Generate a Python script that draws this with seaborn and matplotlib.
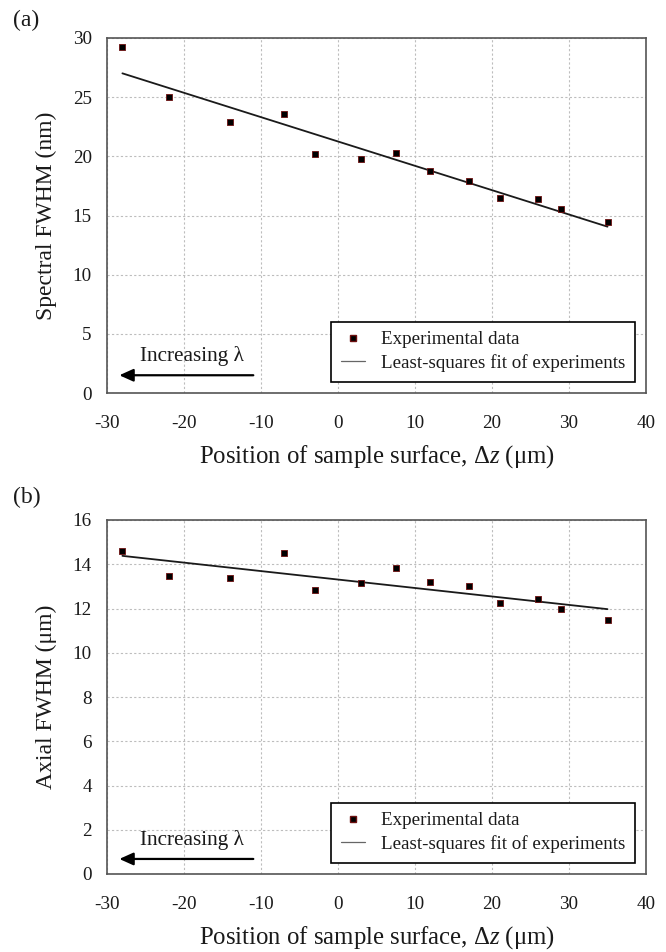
import numpy as np
import pandas as pd
import matplotlib
matplotlib.use("Agg")
import matplotlib.pyplot as plt
from matplotlib.ticker import FixedLocator, AutoMinorLocator
from matplotlib.lines import Line2D
import seaborn as sns

# Position of the sample surface (µm) for each measurement
dz = [-28, -22, -14, -7, -3, 3, 7.5, 12, 17, 21, 26, 29, 35]
# Measured spectral FWHM (nm)
spectral_fwhm = [29.2, 25.05, 22.93, 23.55, 20.23, 19.78, 20.26, 18.74, 17.92, 16.51, 16.4, 15.53, 14.48]
# Measured axial FWHM (µm)
axial_fwhm = [14.61, 13.47, 13.36, 14.49, 12.85, 13.15, 13.85, 13.18, 13.02, 12.25, 12.41, 11.98, 11.47]

x_ticks = [-30, -20, -10, 0, 10, 20, 30, 40]
spectral_ticks = [0, 5, 10, 15, 20, 25, 30]
axial_ticks = [0, 2, 4, 6, 8, 10, 12, 14, 16]

sns.set_theme(style="white")
plt.rcParams.update({
    "font.family": ["Liberation Serif", "DejaVu Serif"],
    "mathtext.fontset": "custom",
    "mathtext.rm": "Liberation Serif",
    "mathtext.it": "Liberation Serif:italic",
    "text.color": "#1a1a1a",
    "axes.labelcolor": "#1a1a1a",
    "xtick.color": "#1a1a1a",
    "ytick.color": "#1a1a1a",
})

W, H = 666, 952
fig = plt.figure(figsize=(W / 100, H / 100), dpi=100)


def px_axes(left, top, right, bottom):
    return fig.add_axes([left / W, 1 - bottom / H, (right - left) / W, (bottom - top) / H])


ax_a = px_axes(107, 38, 646, 393)
ax_b = px_axes(107, 520, 646, 874)

TICK_FS = 13.8
LEGEND_FS = 13.7
NOTE_FS = 15.3
XLABEL_FS = 17.8
YLABEL_FS = 17.0


def draw_panel(ax, values, yticks, ylabel, arrow_y, text_y):
    df = pd.DataFrame({"dz": dz, "fwhm": values})
    # least-squares fit over the measured range
    sns.regplot(data=df, x="dz", y="fwhm", ax=ax, scatter=False, ci=None,
                truncate=True, color="#1a1a1a", line_kws={"lw": 1.3, "zorder": 2})
    sns.scatterplot(data=df, x="dz", y="fwhm", ax=ax, marker="s", s=22,
                    color="black", edgecolor="#6e1010", linewidth=0.6, zorder=3)

    ax.set_xlim(x_ticks[0], x_ticks[-1])
    ax.set_ylim(yticks[0], yticks[-1])
    ax.xaxis.set_major_locator(FixedLocator(x_ticks))
    ax.yaxis.set_major_locator(FixedLocator(yticks))
    ax.xaxis.set_minor_locator(AutoMinorLocator(5))
    ax.yaxis.set_minor_locator(AutoMinorLocator(5))
    ax.set_xticklabels([str(t) for t in x_ticks])
    ax.set_yticklabels([str(t) for t in yticks])

    ax.grid(True, which="major", linestyle=(0, (2, 2)), color="#bdbdbd", linewidth=0.8)
    ax.set_axisbelow(True)
    ax.tick_params(axis="both", which="both", direction="in", color="#777777",
                   labelsize=TICK_FS)
    ax.tick_params(axis="both", which="major", length=3.5, width=0.8)
    ax.tick_params(axis="both", which="minor", length=3, width=0.7)
    ax.tick_params(axis="x", which="major", pad=15.5)
    ax.tick_params(axis="y", which="major", pad=11)
    for side in ("left", "right", "top", "bottom"):
        ax.spines[side].set_visible(True)
        ax.spines[side].set_color("#555555")
        ax.spines[side].set_linewidth(1.2)

    ax.set_xlabel(r"Position of sample surface, $\mathit{Δz}$ (μm)", fontsize=XLABEL_FS)
    ax.set_ylabel(ylabel, fontsize=YLABEL_FS)
    ax.xaxis.set_label_coords(0.5, -0.18)
    ax.xaxis.label.set_va("center")
    ax.yaxis.set_label_coords(-0.113, 0.5)
    ax.yaxis.label.set_va("center")

    # wavelength direction marker
    ax.annotate("", xy=(-28.4, arrow_y), xytext=(-11, arrow_y),
                arrowprops=dict(arrowstyle="-|>,head_length=0.6,head_width=0.27",
                                color="black", lw=1.6, mutation_scale=14,
                                shrinkA=0, shrinkB=0))
    ax.text(-19, text_y, "Increasing λ", fontsize=NOTE_FS, ha="center", va="center")

    handles = [
        Line2D([], [], marker="s", linestyle="none", color="black",
               markeredgecolor="#6e1010", markersize=4.5),
        Line2D([], [], color="#666666", lw=0.9),
    ]
    leg = ax.legend(handles, ["Experimental data", "Least-squares fit of experiments"],
                    loc="lower right", fontsize=LEGEND_FS, frameon=True, fancybox=False,
                    framealpha=1, edgecolor="black", borderaxespad=0.6,
                    handlelength=1.3, handletextpad=0.8, labelspacing=0.3,
                    borderpad=0.5)
    leg.get_frame().set_linewidth(1.2)


draw_panel(ax_a, spectral_fwhm, spectral_ticks, "Spectral FWHM (nm)", 1.5, 3.1)
draw_panel(ax_b, axial_fwhm, axial_ticks, "Axial FWHM (μm)", 0.68, 1.55)

fig.text(13 / W, 1 - 20 / H, "(a)", fontsize=17, ha="left", va="center")
fig.text(13 / W, 1 - 497 / H, "(b)", fontsize=17, ha="left", va="center")

fig.savefig("out.png", dpi=100, facecolor="white")
